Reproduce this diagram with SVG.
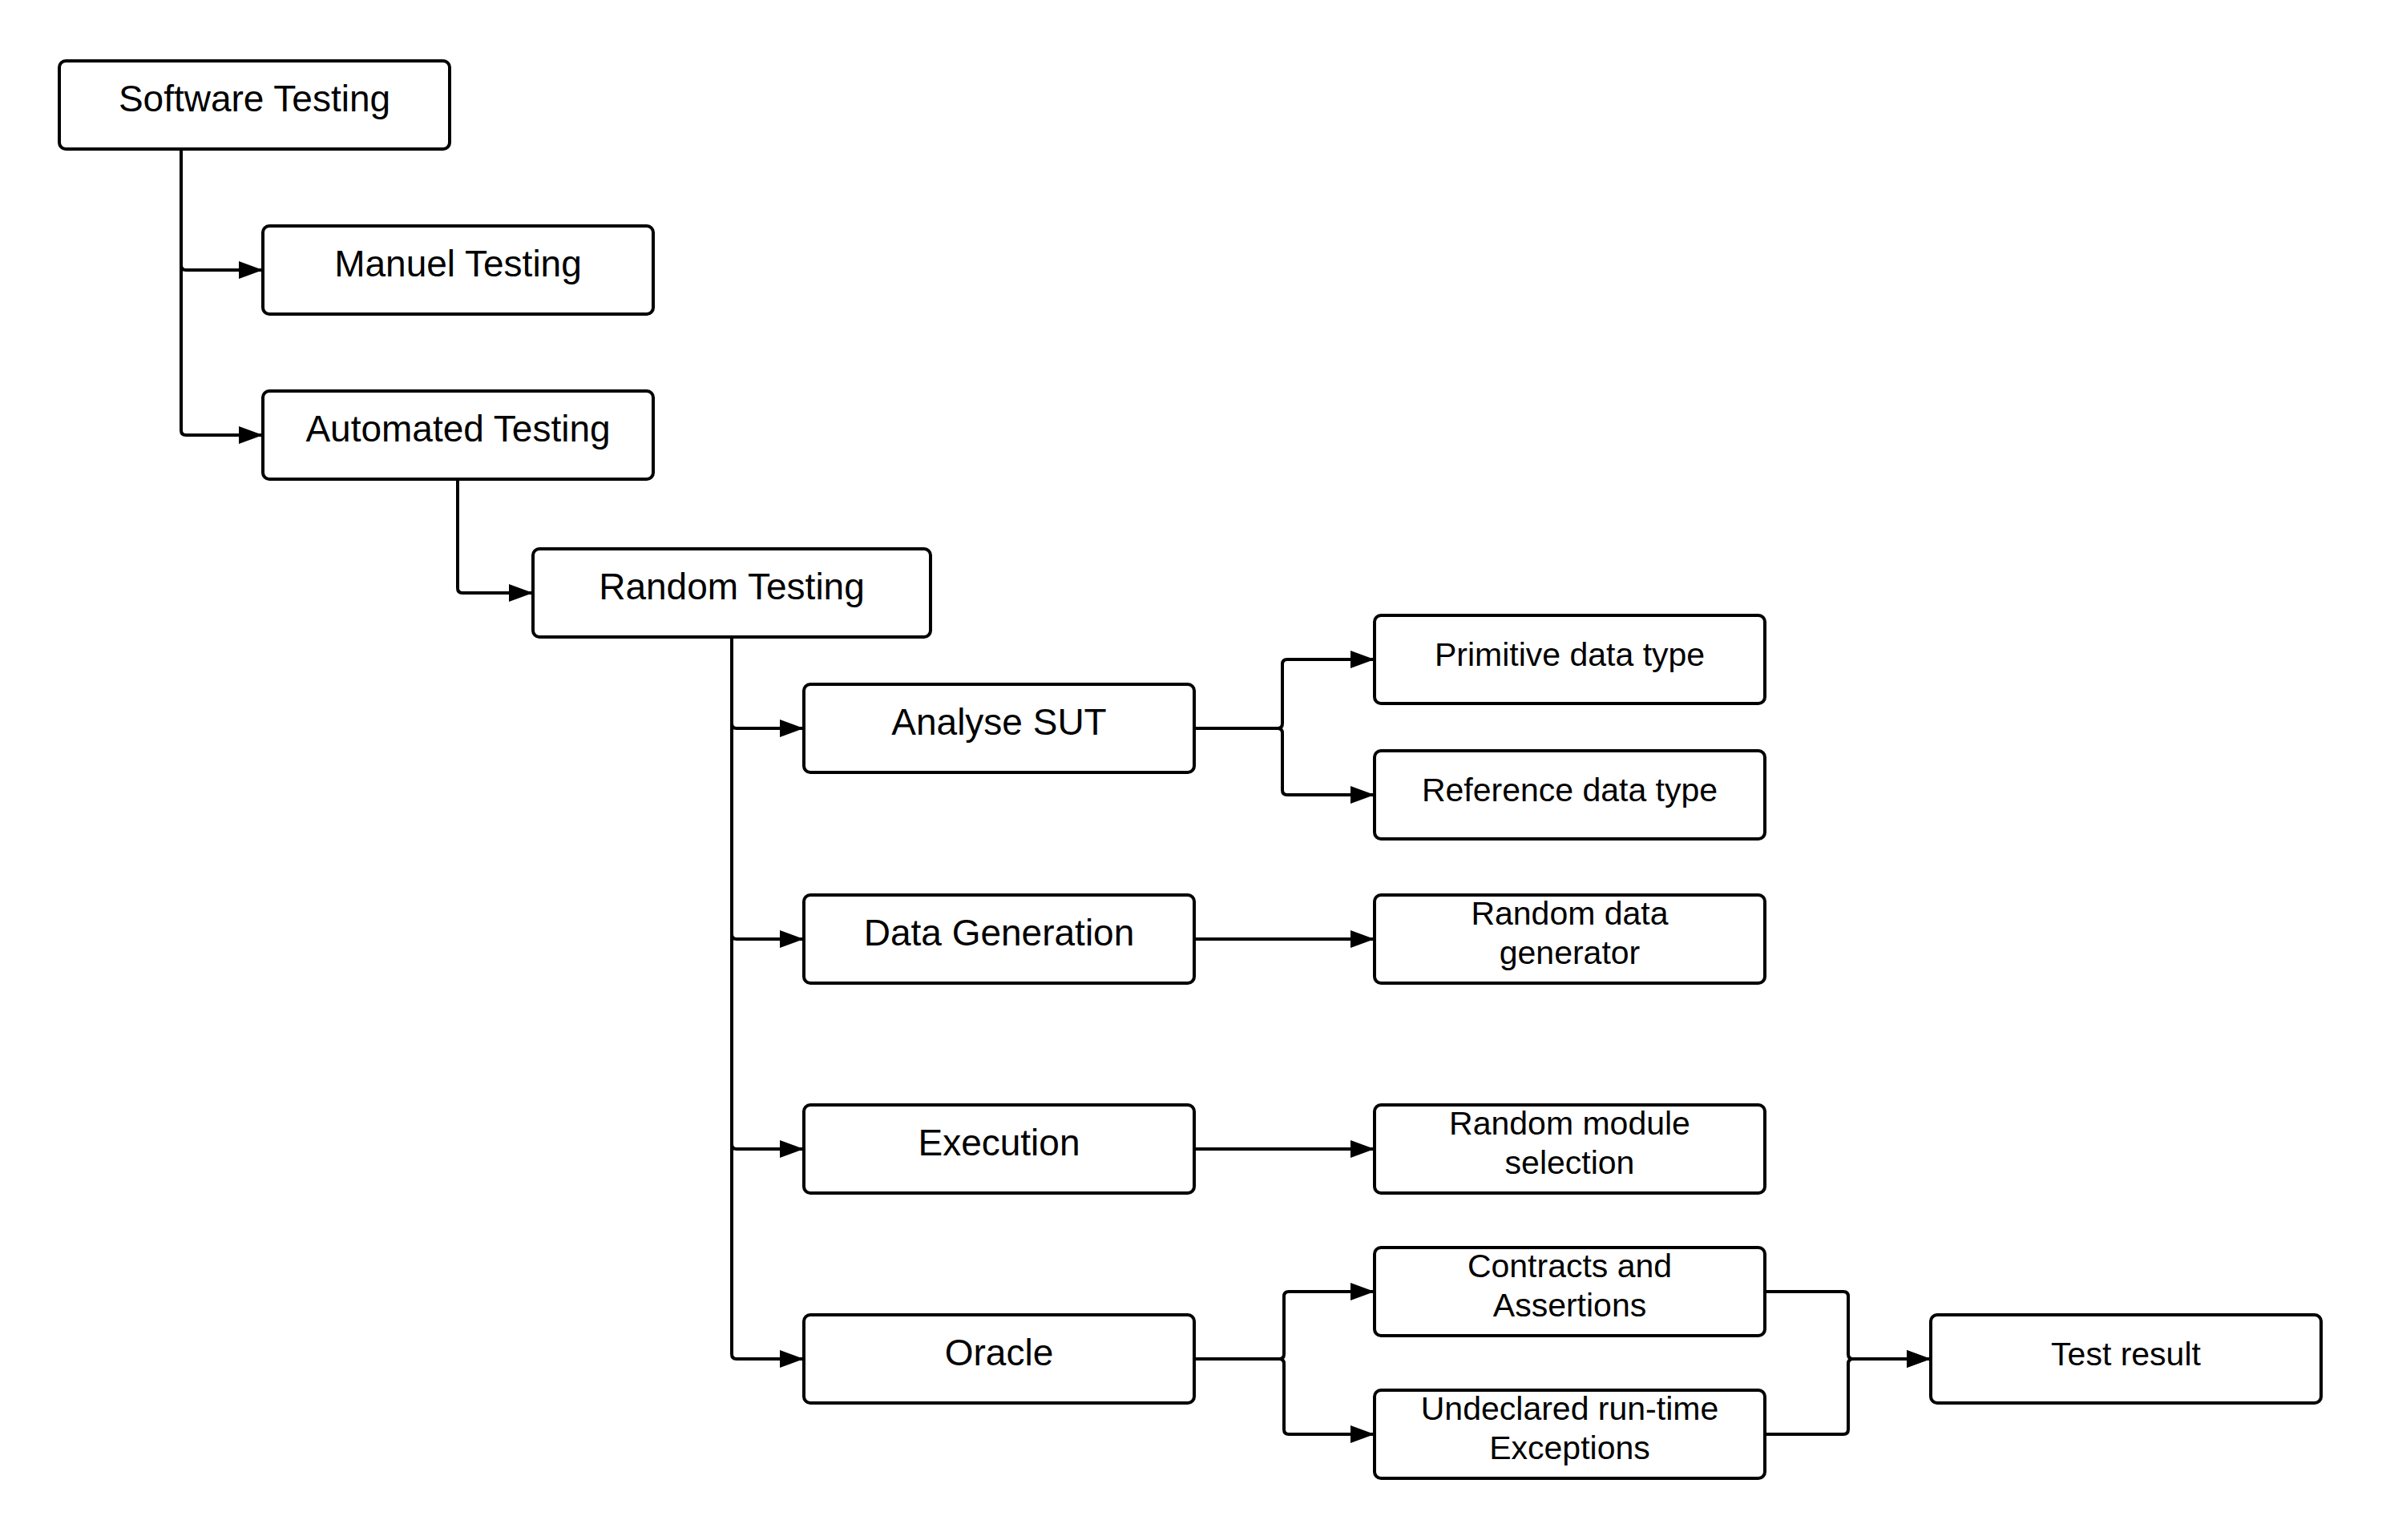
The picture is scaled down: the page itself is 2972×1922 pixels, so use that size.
<svg xmlns="http://www.w3.org/2000/svg" width="2972" height="1922" viewBox="0 0 2972 1922">
<style>
.box{fill:#fff;stroke:#000;stroke-width:4}
.t{font-family:"Liberation Sans",Arial,sans-serif;font-size:46px;fill:#000;text-anchor:middle}
.s{font-family:"Liberation Sans",Arial,sans-serif;font-size:41px;fill:#000;text-anchor:middle}
.c{fill:none;stroke:#000;stroke-width:4;marker-end:url(#arr)}
</style>
<defs>
<marker id="arr" markerUnits="userSpaceOnUse" markerWidth="30" markerHeight="22" refX="30" refY="11" orient="auto">
<path d="M0,0 L30,11 L0,22 z" fill="#000"/>
</marker>
</defs>
<rect width="2972" height="1922" fill="#fff"/>
<g id="connectors">
<path class="c" d="M226,186 V331 Q226,337 232,337 H328"/>
<path class="c" d="M226,186 V537 Q226,543 232,543 H328"/>
<path class="c" d="M571,598 V734 Q571,740 577,740 H665"/>
<path class="c" d="M913,795 V903 Q913,909 919,909 H1003"/>
<path class="c" d="M913,795 V1166 Q913,1172 919,1172 H1003"/>
<path class="c" d="M913,795 V1428 Q913,1434 919,1434 H1003"/>
<path class="c" d="M913,795 V1690 Q913,1696 919,1696 H1003"/>
<path class="c" d="M1490,909 H1594 Q1600,909 1600,903 V829 Q1600,823 1606,823 H1715"/>
<path class="c" d="M1490,909 H1594 Q1600,909 1600,915 V986 Q1600,992 1606,992 H1715"/>
<path class="c" d="M1490,1172 H1715"/>
<path class="c" d="M1490,1434 H1715"/>
<path class="c" d="M1490,1696 H1596 Q1602,1696 1602,1690 V1618 Q1602,1612 1608,1612 H1715"/>
<path class="c" d="M1490,1696 H1596 Q1602,1696 1602,1702 V1784 Q1602,1790 1608,1790 H1715"/>
<path class="c" d="M2202,1612 H2300 Q2306,1612 2306,1618 V1690 Q2306,1696 2312,1696 H2409"/>
<path class="c" d="M2202,1790 H2300 Q2306,1790 2306,1784 V1702 Q2306,1696 2312,1696 H2409"/>
</g>
<g id="software-testing"><rect class="box" x="74" y="76" width="487" height="110" rx="8"/><text class="t" x="317.5" y="139">Software Testing</text></g>
<g id="manuel-testing"><rect class="box" x="328" y="282" width="487" height="110" rx="8"/><text class="t" x="571.5" y="345">Manuel Testing</text></g>
<g id="automated-testing"><rect class="box" x="328" y="488" width="487" height="110" rx="8"/><text class="t" x="571.5" y="551">Automated Testing</text></g>
<g id="random-testing"><rect class="box" x="665" y="685" width="496" height="110" rx="8"/><text class="t" x="913" y="748">Random Testing</text></g>
<g id="analyse-sut"><rect class="box" x="1003" y="854" width="487" height="110" rx="8"/><text class="t" x="1246.5" y="917">Analyse SUT</text></g>
<g id="data-generation"><rect class="box" x="1003" y="1117" width="487" height="110" rx="8"/><text class="t" x="1246.5" y="1180">Data Generation</text></g>
<g id="execution"><rect class="box" x="1003" y="1379" width="487" height="110" rx="8"/><text class="t" x="1246.5" y="1442">Execution</text></g>
<g id="oracle"><rect class="box" x="1003" y="1641" width="487" height="110" rx="8"/><text class="t" x="1246.5" y="1704">Oracle</text></g>
<g id="primitive-data-type"><rect class="box" x="1715" y="768" width="487" height="110" rx="8"/><text class="s" x="1958.5" y="831">Primitive data type</text></g>
<g id="reference-data-type"><rect class="box" x="1715" y="937" width="487" height="110" rx="8"/><text class="s" x="1958.5" y="1000">Reference data type</text></g>
<g id="random-data-generator"><rect class="box" x="1715" y="1117" width="487" height="110" rx="8"/><text class="s" x="1958.5" y="1154">Random data</text><text class="s" x="1958.5" y="1203">generator</text></g>
<g id="random-module-selection"><rect class="box" x="1715" y="1379" width="487" height="110" rx="8"/><text class="s" x="1958.5" y="1416">Random module</text><text class="s" x="1958.5" y="1465">selection</text></g>
<g id="contracts-assertions"><rect class="box" x="1715" y="1557" width="487" height="110" rx="8"/><text class="s" x="1958.5" y="1594">Contracts and</text><text class="s" x="1958.5" y="1643">Assertions</text></g>
<g id="undeclared-exceptions"><rect class="box" x="1715" y="1735" width="487" height="110" rx="8"/><text class="s" x="1958.5" y="1772">Undeclared run-time</text><text class="s" x="1958.5" y="1821">Exceptions</text></g>
<g id="test-result"><rect class="box" x="2409" y="1641" width="487" height="110" rx="8"/><text class="s" x="2652.5" y="1704">Test result</text></g>
</svg>
